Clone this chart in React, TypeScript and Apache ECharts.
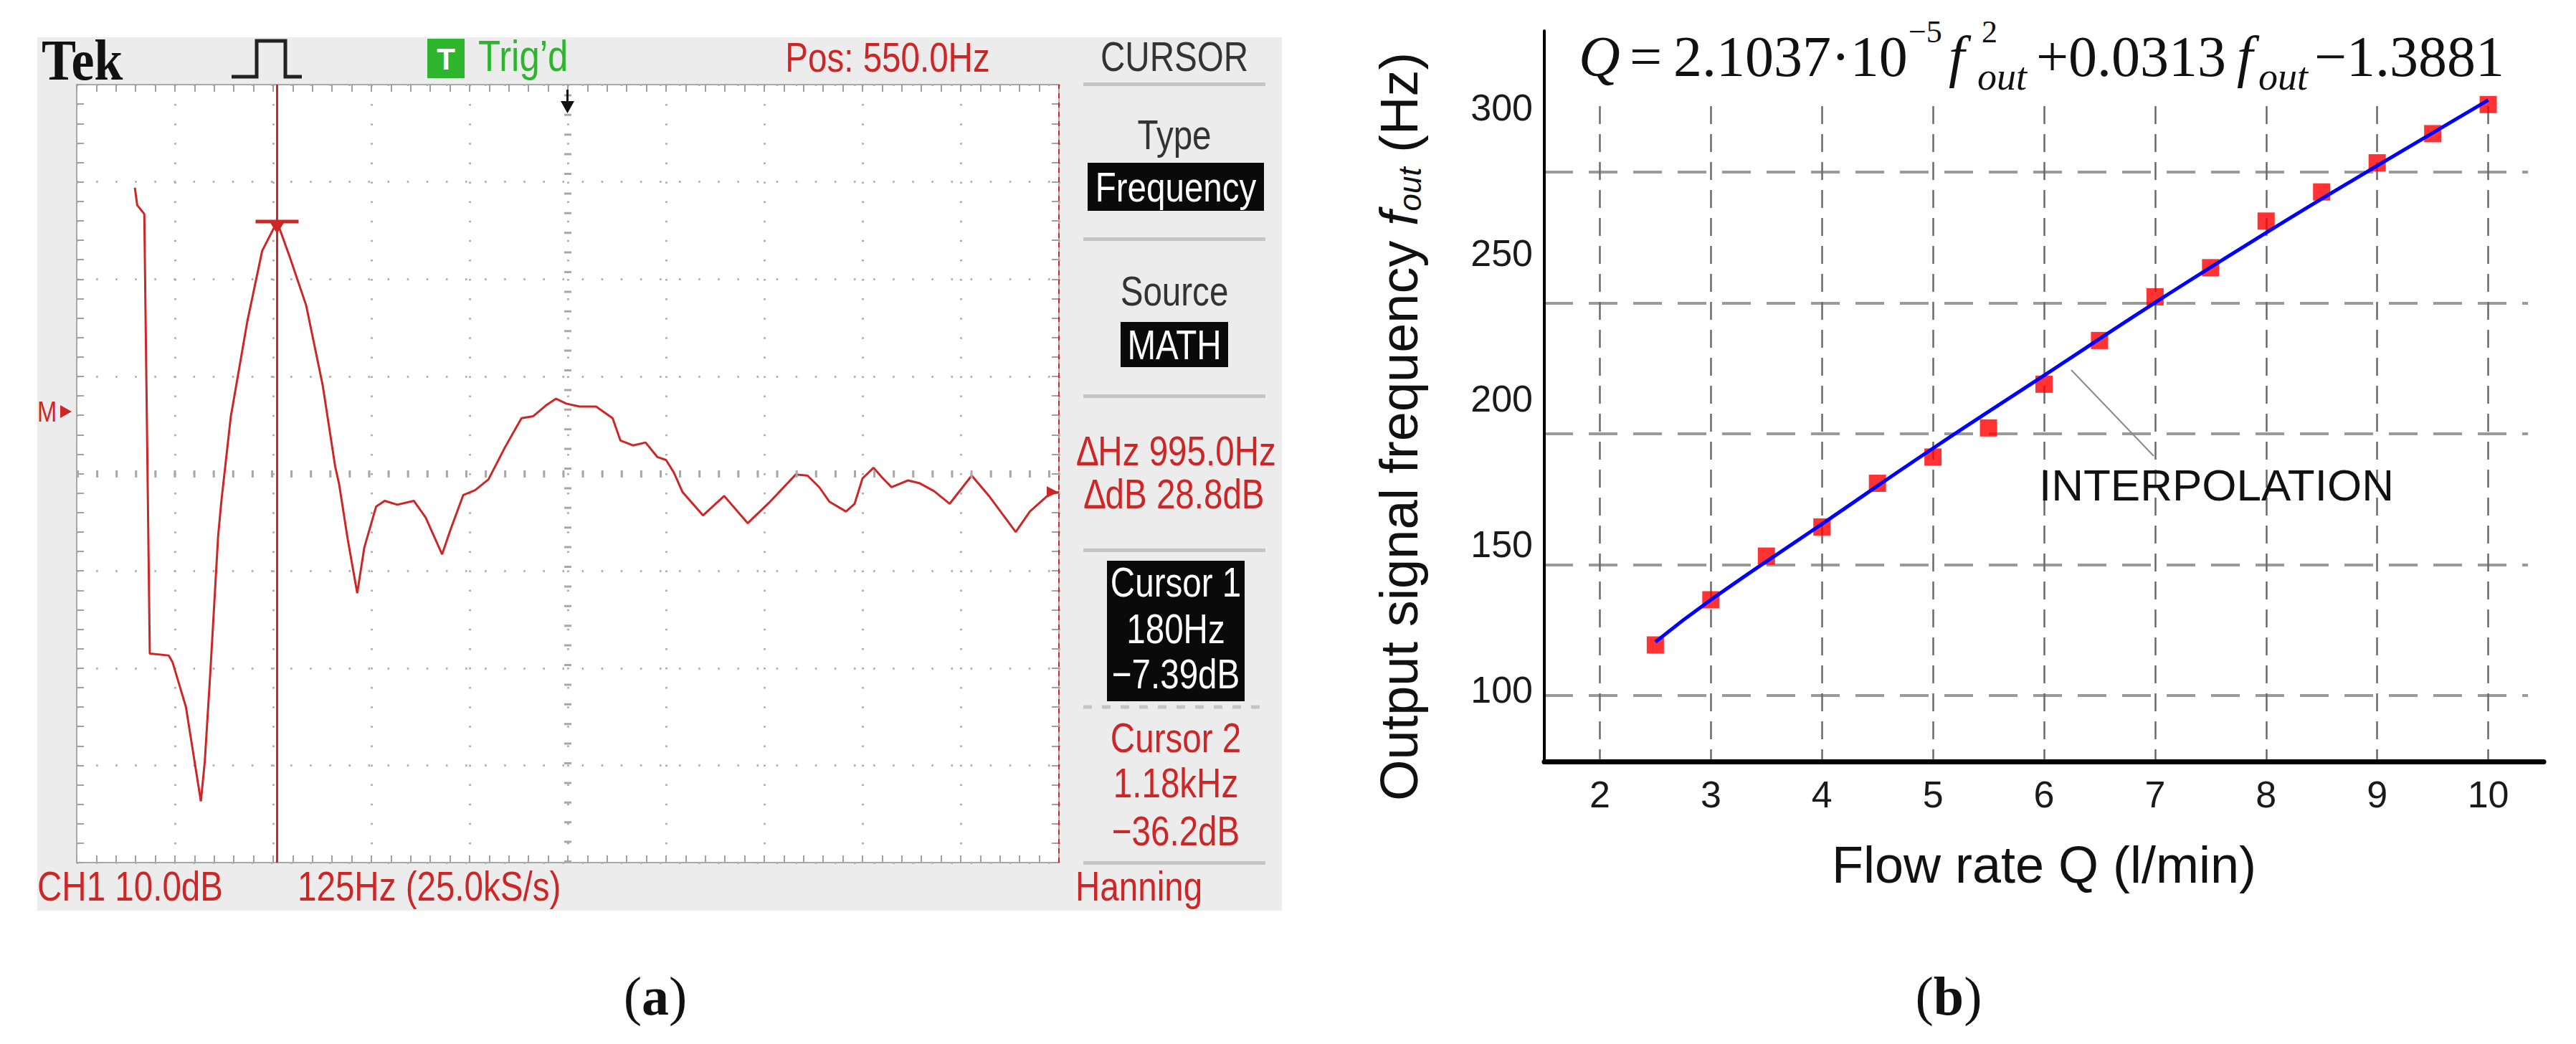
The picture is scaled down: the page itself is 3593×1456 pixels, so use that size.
import React, { useEffect, useRef } from "react";
import * as echarts from "echarts";

// ---------- Panel (a): FFT trace ----------
const traceHz = [
  -1, 2, 11, 18, 42, 47, 64, 83, 88, 95, 105, 109, 121, 142, 161, 180, 196, 217, 238, 254,
  259, 270, 282, 291, 306, 317, 333, 354, 369, 390, 401, 417, 432, 449, 470, 491, 506, 522,
  535, 548, 565, 586, 607, 617, 633, 649, 664, 675, 685, 696, 722, 749, 779, 806, 840, 855,
  870, 883, 904, 915, 925, 939, 950, 962, 983, 998, 1016, 1036, 1064, 1087, 1120, 1138, 1163,
  1175,
];
const traceDb = [
  -3.9, -5.7, -6.6, -51.8, -52.0, -52.7, -57.3, -67.0, -62.9, -53.8, -39.7, -36.2, -27.5,
  -17.7, -10.4, -7.4, -11.0, -16.0, -24.2, -32.6, -34.4, -40.1, -45.6, -40.9, -36.7, -36.1,
  -36.5, -36.1, -37.8, -41.6, -39.0, -35.5, -35.0, -33.9, -30.6, -27.6, -27.4, -26.3, -25.6,
  -26.1, -26.4, -26.4, -27.6, -29.9, -30.4, -30.1, -31.6, -31.9, -33.2, -35.2, -37.6, -35.6,
  -38.4, -36.3, -33.4, -33.5, -34.7, -36.2, -37.2, -36.4, -33.8, -32.7, -33.7, -34.7, -34.0,
  -34.3, -35.1, -36.4, -33.5, -35.7, -39.3, -37.2, -35.4, -35.2,
];
const scopeHzMin = -75;
const scopeHzMax = 1175;
const scopeHzPerDiv = 125;
const scopeDbMin = -73.3;
const scopeDbMax = 6.7;
const scopeDbPerDiv = 10;
const cursor1 = [180, -7.39];
const cursor2Hz = 1175;
const cursor2Db = -35.2;
const centerHz = 550;
const centerDb = -33.3;

// ---------- Panel (b): flow rate vs output frequency ----------
const flowRate = [2.5, 3, 3.5, 4, 4.5, 5, 5.5, 6, 6.5, 7, 7.5, 8, 8.5, 9, 9.5, 10];
const outFreq = [115.5, 131, 146, 156, 171, 180, 190, 205, 220, 235, 245, 261, 271, 281, 291, 301];
const fitFlow = [2.5, 3, 4, 5, 6, 7, 8, 9, 10];
const fitFreq = [116.5, 131, 157, 183, 208, 233, 257, 280, 302.5];
const flowMin = 1.5;
const flowMax = 10.5;
const freqMin = 75.5;
const freqMax = 326.3;

const SANS = "'Liberation Sans', Arial, sans-serif";
const SERIF = "'Liberation Serif', 'Times New Roman', serif";
const RED = "#cc2626";
const DARK = "#333333";

type Anchor = "left" | "center" | "right";

function scopeText(text: string, x: number, y: number, fill: string, align: Anchor = "center", size = 58) {
  return {
    type: "text",
    x,
    y,
    scaleX: 0.82,
    z: 100,
    silent: true,
    style: {
      text,
      font: `${size}px ${SANS}`,
      fill,
      textAlign: align,
      align,
      textVerticalAlign: "middle",
      verticalAlign: "middle",
    },
  };
}

function plainText(text: string, x: number, y: number, font: string, align: Anchor = "left", fill = "#111") {
  return {
    type: "text",
    x,
    y,
    z: 100,
    silent: true,
    style: {
      text,
      font,
      fill,
      textAlign: align,
      align,
      textVerticalAlign: "middle",
      verticalAlign: "middle",
    },
  };
}

function rect(x: number, y: number, w: number, h: number, fill: string, z = 50) {
  return { type: "rect", z, silent: true, shape: { x, y, width: w, height: h }, style: { fill } };
}

function buildOption() {
  const trace = traceHz.map((h, i) => [h, traceDb[i]]);
  const points = flowRate.map((q, i) => [q, outFreq[i]]);
  const fit = fitFlow.map((q, i) => [q, fitFreq[i]]);

  const gridUnitX = 1394 / (flowMax - flowMin);

  const scopeTick = {
    show: true,
    inside: true,
    length: 10,
    lineStyle: { color: "#a0a0a0", width: 2 },
  };
  const scopeMinor = {
    show: true,
    splitNumber: 5,
    length: 10,
    lineStyle: { color: "#a0a0a0", width: 2 },
  };
  const dotted = { show: true, lineStyle: { color: "#b0b0b0", width: 3, type: [2.5, 24.6] } };
  const scopeLine = { show: false, onZero: false };

  const graphic: any[] = [
    // screen background
    rect(52, 52, 1736, 1218, "#ececec", -10),
    // header
    {
      type: "text",
      x: 58,
      y: 84,
      scaleX: 0.9,
      z: 100,
      silent: true,
      style: {
        text: "Tek",
        font: `bold 80px ${SERIF}`,
        fill: "#111",
        textAlign: "left",
        align: "left",
        textVerticalAlign: "middle",
        verticalAlign: "middle",
      },
    },
    {
      type: "polyline",
      z: 100,
      silent: true,
      shape: { points: [[323, 107], [358, 107], [358, 57], [398, 57], [398, 107], [421, 107]] },
      style: { stroke: "#222", lineWidth: 5, fill: "none" },
    },
    rect(596, 54, 52, 55, "#2db52d", 60),
    plainText("T", 622, 82, `bold 42px ${SANS}`, "center", "#ffffff"),
    scopeText("Trig\u2019d", 667, 78, "#2db52d", "left", 62),
    scopeText("Pos: 550.0Hz", 1238, 80, RED),
    scopeText("CURSOR", 1638, 79, DARK),
    // trigger arrow
    {
      type: "line",
      z: 100,
      silent: true,
      shape: { x1: 791.5, y1: 125, x2: 791.5, y2: 148 },
      style: { stroke: "#111", lineWidth: 3 },
    },
    {
      type: "polygon",
      z: 100,
      silent: true,
      shape: { points: [[782, 141], [801, 141], [791.5, 158]] },
      style: { fill: "#111" },
    },
    // math reference marker
    scopeText("M", 52, 574, RED, "left", 40),
    {
      type: "polygon",
      z: 100,
      silent: true,
      shape: { points: [[84, 565], [84, 583], [100, 574]] },
      style: { fill: RED },
    },
    // right menu
    rect(1511, 115, 254, 5, "#c4c4c4"),
    rect(1511, 331, 254, 5, "#c4c4c4"),
    rect(1511, 550, 254, 5, "#c4c4c4"),
    rect(1511, 765, 254, 5, "#c4c4c4"),
    rect(1511, 1201, 254, 5, "#c4c4c4"),
    {
      type: "line",
      z: 50,
      silent: true,
      shape: { x1: 1511, y1: 986, x2: 1765, y2: 986 },
      style: { stroke: "#c4c4c4", lineWidth: 5, lineDash: [12, 14] },
    },
    scopeText("Type", 1638, 188, DARK),
    rect(1517, 227, 246, 67, "#0a0a0a", 60),
    scopeText("Frequency", 1640, 261, "#ffffff"),
    scopeText("Source", 1638, 406, DARK),
    rect(1563, 449, 150, 63, "#0a0a0a", 60),
    scopeText("MATH", 1638, 481, "#ffffff"),
    scopeText("\u2206Hz 995.0Hz", 1641, 629, RED),
    scopeText("\u2206dB 28.8dB", 1638, 689, RED),
    rect(1544, 782, 192, 196, "#0a0a0a", 60),
    scopeText("Cursor 1", 1640, 812, "#ffffff"),
    scopeText("180Hz", 1640, 877, "#ffffff"),
    scopeText("\u22127.39dB", 1640, 940, "#ffffff"),
    scopeText("Cursor 2", 1640, 1029, RED),
    scopeText("1.18kHz", 1640, 1092, RED),
    scopeText("\u221236.2dB", 1640, 1159, RED),
    // bottom status line
    scopeText("CH1 10.0dB", 52, 1236, RED, "left"),
    scopeText("125Hz (25.0kS/s)", 415, 1236, RED, "left"),
    scopeText("Hanning", 1500, 1236, RED, "left"),

    // ---------- panel (b) annotations ----------
    plainText("Q", 2202, 79, `italic 80px ${SERIF}`),
    plainText("=", 2273, 79, `80px ${SERIF}`),
    plainText("2.1037\u00b710", 2334, 79, `80px ${SERIF}`),
    plainText("\u22125", 2662, 44, `44px ${SERIF}`),
    plainText("f", 2718, 79, `italic 80px ${SERIF}`),
    plainText("2", 2764, 44, `44px ${SERIF}`),
    plainText("out", 2758, 107, `italic 54px ${SERIF}`),
    plainText("+0.0313", 2840, 79, `80px ${SERIF}`),
    plainText("f", 3120, 79, `italic 80px ${SERIF}`),
    plainText("out", 3150, 107, `italic 54px ${SERIF}`),
    plainText("\u22121.3881", 3228, 79, `80px ${SERIF}`),
    plainText("INTERPOLATION", 2844, 676, `62px ${SANS}`),
    {
      type: "line",
      z: 100,
      silent: true,
      shape: { x1: 2889, y1: 516, x2: 3004, y2: 636 },
      style: { stroke: "#8a8a8a", lineWidth: 2 },
    },
    {
      type: "text",
      x: 1951,
      y: 595,
      rotation: Math.PI / 2,
      z: 100,
      silent: true,
      style: {
        text: "{a|Output signal frequency }{f|f}{s|out}{a| (Hz)}",
        textAlign: "center",
        align: "center",
        textVerticalAlign: "middle",
        verticalAlign: "middle",
        fill: "#111",
        font: `74px ${SANS}`,
        rich: {
          a: { font: `74px ${SANS}`, fill: "#111", lineHeight: 74, verticalAlign: "top" },
          f: { font: `italic 74px ${SANS}`, fill: "#111", lineHeight: 74, verticalAlign: "top" },
          s: {
            font: `italic 44px ${SANS}`,
            fill: "#111",
            lineHeight: 44,
            verticalAlign: "bottom",
            padding: [40, 0, 0, 0],
          },
        },
      },
    },
    // captions
    {
      type: "text",
      x: 914,
      y: 1389,
      z: 100,
      silent: true,
      style: {
        text: "{p|(}{b|a}{p|)}",
        textAlign: "center",
        align: "center",
        textVerticalAlign: "middle",
        verticalAlign: "middle",
        fill: "#111",
        font: `76px ${SERIF}`,
        rich: { p: { font: `76px ${SERIF}`, fill: "#111" }, b: { font: `bold 76px ${SERIF}`, fill: "#111" } },
      },
    },
    {
      type: "text",
      x: 2718,
      y: 1389,
      z: 100,
      silent: true,
      style: {
        text: "{p|(}{b|b}{p|)}",
        textAlign: "center",
        align: "center",
        textVerticalAlign: "middle",
        verticalAlign: "middle",
        fill: "#111",
        font: `76px ${SERIF}`,
        rich: { p: { font: `76px ${SERIF}`, fill: "#111" }, b: { font: `bold 76px ${SERIF}`, fill: "#111" } },
      },
    },
  ];

  return {
    animation: false,
    backgroundColor: "#ffffff",
    graphic: { elements: graphic },
    grid: [
      {
        left: 107,
        top: 118,
        width: 1370,
        height: 1085,
        show: true,
        backgroundColor: "#ffffff",
        borderColor: "#a8a8a8",
        borderWidth: 2,
        containLabel: false,
        outerBoundsMode: "none",
      },
      { left: 2154, top: 43, width: 1394, height: 1019, containLabel: false, outerBoundsMode: "none" },
      { left: 2154, top: 240, width: 1372, height: 730, containLabel: false, outerBoundsMode: "none" },
      {
        left: 2154 + 0.5 * gridUnitX,
        top: 148,
        width: 8 * gridUnitX,
        height: 914,
        containLabel: false,
        outerBoundsMode: "none",
      },
    ],
    xAxis: [
      {
        gridIndex: 0,
        type: "value",
        position: "bottom",
        min: scopeHzMin,
        max: scopeHzMax,
        interval: scopeHzPerDiv,
        axisLine: scopeLine,
        axisTick: scopeTick,
        minorTick: scopeMinor,
        axisLabel: { show: false },
        splitLine: dotted,
      },
      {
        gridIndex: 0,
        type: "value",
        position: "top",
        min: scopeHzMin,
        max: scopeHzMax,
        interval: scopeHzPerDiv,
        axisLine: scopeLine,
        axisTick: scopeTick,
        minorTick: scopeMinor,
        axisLabel: { show: false },
        splitLine: { show: false },
      },
      {
        gridIndex: 1,
        type: "value",
        min: flowMin,
        max: flowMax,
        splitNumber: 9,
        minInterval: 1,
        maxInterval: 1,
        z: 5,
        axisLine: { show: true, onZero: false, lineStyle: { color: "#000", width: 7 } },
        axisTick: { show: false },
        splitLine: { show: false },
        axisLabel: {
          show: true,
          margin: 20,
          fontSize: 52,
          fontFamily: SANS,
          color: "#1a1a1a",
          showMinLabel: false,
          showMaxLabel: false,
          formatter: (v: number) => (Number.isInteger(v) ? String(v) : ""),
        },
        name: "Flow rate Q (l/min)",
        nameLocation: "middle",
        nameGap: 108,
        nameTextStyle: { fontSize: 72, fontFamily: SANS, color: "#111" },
      },
      {
        gridIndex: 2,
        type: "value",
        min: 0,
        max: 1,
        show: false,
      },
      {
        gridIndex: 3,
        type: "value",
        min: 2,
        max: 10,
        interval: 1,
        z: 0,
        axisLine: { show: false, onZero: false },
        axisTick: { show: false },
        axisLabel: { show: false },
        splitLine: { show: true, lineStyle: { color: "#6a6a6a", width: 2.5, type: [25, 14] } },
      },
    ],
    yAxis: [
      {
        gridIndex: 0,
        type: "value",
        position: "left",
        min: scopeDbMin,
        max: scopeDbMax,
        interval: scopeDbPerDiv,
        axisLine: scopeLine,
        axisTick: scopeTick,
        minorTick: scopeMinor,
        axisLabel: { show: false },
        splitLine: dotted,
      },
      {
        gridIndex: 0,
        type: "value",
        position: "right",
        min: scopeDbMin,
        max: scopeDbMax,
        interval: scopeDbPerDiv,
        axisLine: scopeLine,
        axisTick: scopeTick,
        minorTick: scopeMinor,
        axisLabel: { show: false },
        splitLine: { show: false },
      },
      {
        gridIndex: 1,
        type: "value",
        min: freqMin,
        max: freqMax,
        splitNumber: 5,
        minInterval: 50,
        maxInterval: 50,
        z: 5,
        axisLine: { show: true, onZero: false, lineStyle: { color: "#000", width: 4 } },
        axisTick: { show: false },
        splitLine: { show: false },
        axisLabel: {
          show: true,
          margin: 16,
          fontSize: 52,
          fontFamily: SANS,
          color: "#1a1a1a",
          showMinLabel: false,
          showMaxLabel: false,
          formatter: (v: number) => (v % 50 === 0 ? String(v) : ""),
        },
      },
      {
        gridIndex: 2,
        type: "value",
        min: 0,
        max: 4,
        interval: 1,
        z: 0,
        axisLine: { show: false, onZero: false },
        axisTick: { show: false },
        axisLabel: { show: false },
        splitLine: { show: true, lineStyle: { color: "#9a9a9a", width: 4, type: [40, 22] } },
      },
      {
        gridIndex: 3,
        type: "value",
        min: 0,
        max: 1,
        show: false,
      },
    ],
    series: [
      {
        name: "FFT",
        type: "line",
        xAxisIndex: 0,
        yAxisIndex: 0,
        data: trace,
        showSymbol: false,
        symbol: "none",
        z: 3,
        lineStyle: { color: RED, width: 3 },
        markLine: {
          silent: true,
          symbol: ["none", "none"],
          label: { show: false },
          data: [
            { xAxis: centerHz, lineStyle: { color: "#a8a8a8", width: 10, type: [3, 24.4] } },
            { yAxis: centerDb, lineStyle: { color: "#a8a8a8", width: 10, type: [3, 24.1] } },
            { xAxis: cursor1[0], lineStyle: { color: RED, width: 3, type: "solid" } },
            { xAxis: cursor2Hz, lineStyle: { color: RED, width: 2, type: [7, 6] } },
          ],
        },
        markPoint: {
          silent: true,
          label: { show: false },
          data: [
            { coord: cursor1, symbol: "rect", symbolSize: [60, 5], itemStyle: { color: RED } },
            {
              coord: cursor1,
              symbol: "triangle",
              symbolSize: [20, 16],
              symbolRotate: 180,
              symbolOffset: [0, 9],
              itemStyle: { color: RED },
            },
            {
              coord: [cursor2Hz, cursor2Db],
              symbol: "triangle",
              symbolSize: [16, 16],
              symbolRotate: -90,
              symbolOffset: [-9, 0],
              itemStyle: { color: RED },
            },
          ],
        },
      },
      {
        name: "Measured",
        type: "scatter",
        xAxisIndex: 2,
        yAxisIndex: 2,
        data: points,
        symbol: "rect",
        symbolSize: 24,
        z: 3,
        itemStyle: { color: "#ff0000" },
      },
      {
        name: "Interpolation",
        type: "line",
        xAxisIndex: 2,
        yAxisIndex: 2,
        data: fit,
        smooth: true,
        showSymbol: false,
        symbol: "none",
        z: 4,
        lineStyle: { color: "#0000ff", width: 5 },
      },
    ],
  };
}

export default function App() {
  const ref = useRef<HTMLDivElement>(null);
  useEffect(() => {
    if (!ref.current) return;
    const chart = echarts.init(ref.current, null, { renderer: "svg" });
    chart.setOption(buildOption() as any);
    return () => chart.dispose();
  }, []);
  return (
    <div
      ref={ref}
      style={{ position: "absolute", left: 0, top: 0, width: 3593, height: 1456, background: "#ffffff" }}
    />
  );
}
